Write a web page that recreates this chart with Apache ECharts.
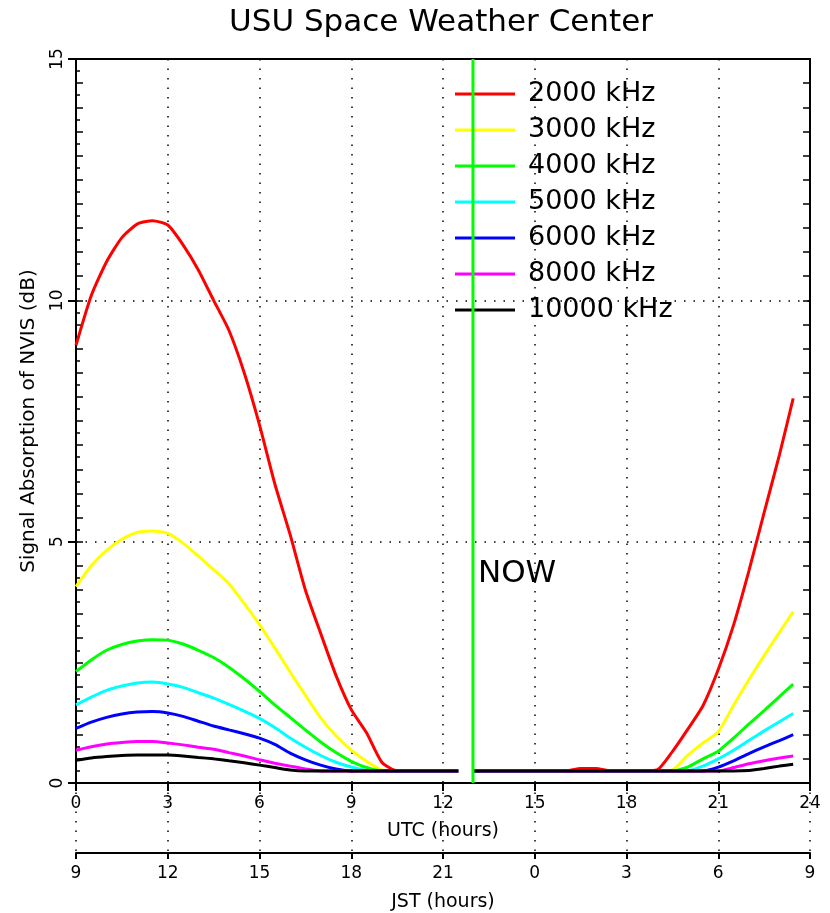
<!DOCTYPE html>
<html><head><meta charset="utf-8">
<script src="https://cdn.jsdelivr.net/npm/echarts@6/dist/echarts.min.js"></script>
<style>html,body{margin:0;padding:0;background:#fff}#c{width:830px;height:913px}</style>
</head><body><div id="c"></div>
<script>
// ---- data ----
const utcHours = [0,0.5,1,1.5,2,2.5,3,3.5,4,4.5,5,5.5,6,6.5,7,7.5,8,8.5,9,9.5,10,10.5,11,11.5,12,12.5,
  12.75,
  13,13.5,14,14.5,15,15.5,16,16.5,17,17.5,18,18.5,19,19.5,20,20.5,21,21.5,22,22.5,23,23.45];

const abs2000 = [9.07,10.1,10.8,11.3,11.58,11.65,11.56,11.15,10.63,10.0,9.38,8.5,7.42,6.2,5.15,4.0,3.1,2.23,1.52,1.04,0.43,0.25,0.25,0.25,0.25,0.25,
  null,
  0.25,0.25,0.25,0.25,0.25,0.25,0.25,0.3,0.3,0.25,0.25,0.25,0.27,0.65,1.11,1.6,2.35,3.27,4.39,5.6,6.8,7.97];
const abs3000 = [4.07,4.5,4.82,5.05,5.19,5.22,5.17,4.97,4.7,4.42,4.13,3.72,3.28,2.8,2.3,1.82,1.35,0.98,0.68,0.45,0.27,0.25,0.25,0.25,0.25,0.25,
  null,
  0.25,0.25,0.25,0.25,0.25,0.25,0.25,0.25,0.25,0.25,0.25,0.25,0.25,0.27,0.57,0.83,1.06,1.61,2.14,2.64,3.12,3.55];
const abs4000 = [2.31,2.55,2.75,2.87,2.94,2.97,2.96,2.88,2.75,2.6,2.4,2.16,1.9,1.62,1.36,1.1,0.85,0.63,0.45,0.32,0.25,0.25,0.25,0.25,0.25,0.25,
  null,
  0.25,0.25,0.25,0.25,0.25,0.25,0.25,0.25,0.25,0.25,0.25,0.25,0.25,0.25,0.33,0.5,0.66,0.93,1.22,1.5,1.79,2.05];
const abs5000 = [1.62,1.78,1.92,2.01,2.07,2.09,2.05,1.98,1.87,1.76,1.63,1.49,1.34,1.15,0.93,0.74,0.57,0.43,0.33,0.26,0.25,0.25,0.25,0.25,0.25,0.25,
  null,
  0.25,0.25,0.25,0.25,0.25,0.25,0.25,0.25,0.25,0.25,0.25,0.25,0.25,0.25,0.25,0.35,0.5,0.68,0.88,1.08,1.27,1.44];
const abs6000 = [1.13,1.26,1.36,1.43,1.47,1.48,1.45,1.38,1.28,1.18,1.1,1.02,0.93,0.8,0.62,0.48,0.37,0.29,0.25,0.25,0.25,0.25,0.25,0.25,0.25,0.25,
  null,
  0.25,0.25,0.25,0.25,0.25,0.25,0.25,0.25,0.25,0.25,0.25,0.25,0.25,0.25,0.25,0.25,0.33,0.46,0.61,0.75,0.88,1.0];
const abs8000 = [0.68,0.75,0.81,0.84,0.86,0.86,0.83,0.79,0.74,0.7,0.63,0.56,0.48,0.41,0.35,0.29,0.25,0.25,0.25,0.25,0.25,0.25,0.25,0.25,0.25,0.25,
  null,
  0.25,0.25,0.25,0.25,0.25,0.25,0.25,0.25,0.25,0.25,0.25,0.25,0.25,0.25,0.25,0.25,0.25,0.32,0.4,0.46,0.52,0.56];
const abs10000 = [0.47,0.52,0.55,0.57,0.58,0.58,0.58,0.56,0.53,0.5,0.46,0.42,0.37,0.32,0.27,0.25,0.25,0.25,0.25,0.25,0.25,0.25,0.25,0.25,0.25,0.25,
  null,
  0.25,0.25,0.25,0.25,0.25,0.25,0.25,0.25,0.25,0.25,0.25,0.25,0.25,0.25,0.25,0.25,0.25,0.25,0.26,0.3,0.35,0.39];

const seriesNames = ['2000 kHz','3000 kHz','4000 kHz','5000 kHz','6000 kHz','8000 kHz','10000 kHz'];
const seriesValues = [abs2000, abs3000, abs4000, abs5000, abs6000, abs8000, abs10000];
const nowUtc = [12.98];
const jstOffset = 9;

// ---- style ----
const seriesColors = ['#ff0000','#ffff00','#00ff00','#00ffff','#0000ff','#ff00ff','#000000'];
const FONT = 'DejaVu Sans';
const BLACK = '#000';
const dot = {show:true, lineStyle:{color:BLACK, width:1.5, type:[1.5,8]}};
const axLine = {show:true, onZero:false, lineStyle:{color:BLACK, width:2}};

const chart = echarts.init(document.getElementById('c'));

const series = seriesNames.map((name, k) => ({
  type:'line', name, xAxisIndex:0, yAxisIndex:0,
  data: utcHours.map((t, i) => [t, seriesValues[k][i] == null ? '-' : seriesValues[k][i]]),
  showSymbol:false, symbol:'none', smooth:0.2, connectNulls:false,
  lineStyle:{color:seriesColors[k], width:3}, itemStyle:{color:seriesColors[k]}
}));
series.push({
  type:'line', name:'NOW', xAxisIndex:0, yAxisIndex:0, z:5, silent:true,
  data:[[nowUtc[0],0],[nowUtc[0],15]], showSymbol:false, symbol:'none',
  lineStyle:{color:'#00ff00', width:3}
});

chart.setOption({
  animation:false,
  backgroundColor:'#fff',
  title:{text:'USU Space Weather Center', left:441, top:7, textAlign:'center', padding:0,
    textStyle:{fontFamily:FONT, fontSize:31, fontWeight:'normal', color:BLACK}},
  legend:{orient:'vertical', left:455, top:79, itemWidth:60, itemHeight:3, itemGap:6, icon:'rect',
    padding:0, selectedMode:false,
    textStyle:{fontFamily:FONT, fontSize:27, color:BLACK, lineHeight:30, padding:[0,0,0,8]},
    data:seriesNames},
  graphic:[{type:'text', left:478, top:558, style:{text:'NOW', fontFamily:FONT, fontSize:31, fill:BLACK}}],
  grid:[{left:76, right:20, top:59, bottom:130}, {left:76, right:20, top:783, bottom:59}],
  xAxis:[
    {gridIndex:0, type:'value', position:'bottom', min:0, max:24, interval:3,
      axisLine:axLine, axisTick:{show:true, length:8, lineStyle:{color:BLACK, width:2}},
      axisLabel:{margin:12, fontFamily:FONT, fontSize:17, color:BLACK},
      splitLine:dot,
      name:'UTC (hours)', nameLocation:'middle', nameGap:39,
      nameTextStyle:{fontFamily:FONT, fontSize:19, color:BLACK}},
    {gridIndex:0, type:'value', position:'top', min:0, max:24, interval:3,
      axisLine:axLine, axisTick:{show:false}, axisLabel:{show:false}, splitLine:{show:false}},
    {gridIndex:1, type:'value', position:'bottom', min:0, max:24, interval:3,
      axisLine:axLine, axisTick:{show:true, length:6, lineStyle:{color:BLACK, width:2}},
      axisLabel:{margin:12, fontFamily:FONT, fontSize:17, color:BLACK,
        formatter: v => String((v + jstOffset) % 24)},
      splitLine:dot,
      name:'JST (hours)', nameLocation:'middle', nameGap:40,
      nameTextStyle:{fontFamily:FONT, fontSize:19, color:BLACK}}
  ],
  yAxis:[
    {gridIndex:0, type:'value', position:'left', min:0, max:15, interval:5,
      axisLine:axLine, axisTick:{show:true, length:8, lineStyle:{color:BLACK, width:2}},
      axisLabel:{rotate:90, margin:10, fontFamily:FONT, fontSize:17, color:BLACK},
      splitLine:dot,
      name:'Signal Absorption of NVIS (dB)', nameLocation:'middle', nameGap:37, nameRotate:90,
      nameTextStyle:{fontFamily:FONT, fontSize:20, color:BLACK}},
    {gridIndex:0, type:'value', position:'left', min:0, max:15, interval:0.5,
      axisLine:{show:false, onZero:false}, axisTick:{show:true, inside:true, length:7, lineStyle:{color:BLACK, width:1.5}},
      minorTick:{show:true, splitNumber:2, length:4, lineStyle:{color:BLACK, width:1.5}},
      axisLabel:{show:false}, splitLine:{show:false}},
    {gridIndex:0, type:'value', position:'right', min:0, max:15, interval:0.5,
      axisLine:axLine, axisTick:{show:true, inside:true, length:7, lineStyle:{color:BLACK, width:1.5}},
      axisLabel:{show:false}, splitLine:{show:false}},
    {gridIndex:1, type:'value', min:0, max:1, show:false}
  ],
  series
});
</script></body></html>
